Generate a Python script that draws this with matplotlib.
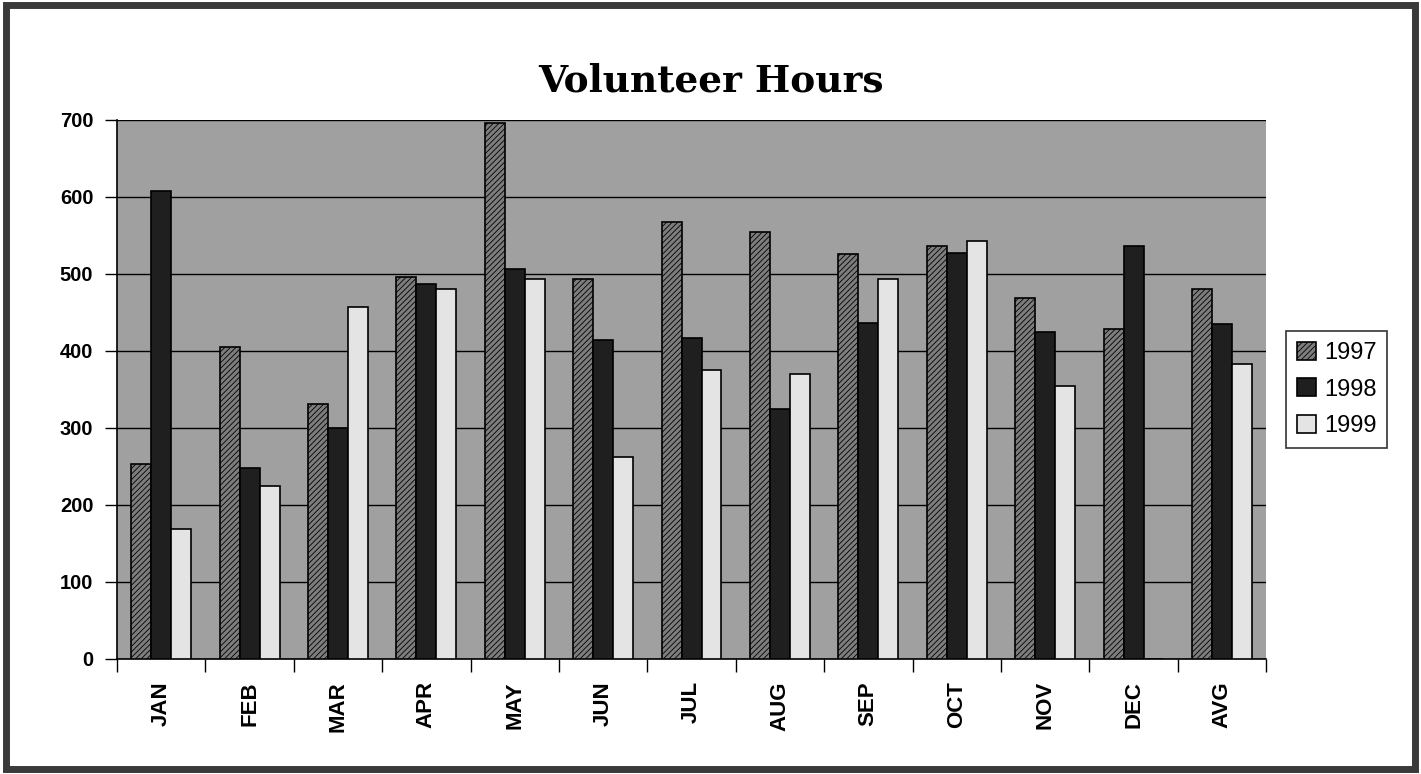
import numpy as np
import matplotlib
matplotlib.use("Agg")
import matplotlib.pyplot as plt
from matplotlib.patches import Rectangle

# Data
months = ['JAN', 'FEB', 'MAR', 'APR', 'MAY', 'JUN', 'JUL', 'AUG', 'SEP', 'OCT', 'NOV', 'DEC', 'AVG']
hours_1997 = [253, 405, 331, 496, 696, 493, 568, 554, 526, 536, 469, 428, 480]
hours_1998 = [608, 248, 300, 487, 506, 414, 417, 325, 436, 527, 424, 536, 435]
hours_1999 = [169, 225, 457, 480, 494, 262, 375, 370, 494, 543, 354, 0, 383]
years = ['1997', '1998', '1999']

series = [hours_1997, hours_1998, hours_1999]
colors = ['#7d7d7d', '#1f1f1f', '#e4e4e4']
hatches = ['//////', '', '']

plt.rcParams['font.family'] = ['Liberation Sans', 'DejaVu Sans']
plt.rcParams['hatch.color'] = '#555555'
plt.rcParams['hatch.linewidth'] = 0.6

fig = plt.figure(figsize=(14.21, 7.74), dpi=100)
ax = fig.add_axes([0.0823, 0.1486, 0.8087, 0.6964])
ax.set_facecolor('#a0a0a0')

x = np.arange(len(months))
w = 0.226
for i, (vals, c, h, yr) in enumerate(zip(series, colors, hatches, years)):
    ax.bar(x + (i - 1) * w, vals, width=w, color=c, edgecolor='black',
           linewidth=1.2, hatch=h, label=yr, zorder=3)

ax.set_xlim(-0.5, len(months) - 0.5)
ax.set_ylim(0, 700)
ax.set_yticks(range(0, 701, 100))
ax.yaxis.grid(True, color='black', linewidth=1.0, zorder=1)
ax.set_axisbelow(True)

# tick marks at category boundaries, labels at centres
ax.set_xticks(np.arange(-0.5, len(months), 1.0))
ax.set_xticklabels([])
ax.set_xticks(x, minor=True)
ax.set_xticklabels(months, minor=True, rotation=90, fontsize=16, fontweight='bold')
ax.tick_params(axis='x', which='major', length=9, width=1, direction='out')
ax.tick_params(axis='x', which='minor', length=0, pad=16)
ax.tick_params(axis='y', length=9, width=1, direction='out', labelsize=14.5, pad=8)
for lbl in ax.get_yticklabels():
    lbl.set_fontweight('bold')

for s in ['top', 'right']:
    ax.spines[s].set_visible(False)
ax.spines['left'].set_linewidth(1.2)
ax.spines['bottom'].set_linewidth(1.2)

fig.text(0.5, 0.895, 'Volunteer Hours', ha='center', va='center',
         fontsize=27, fontweight='bold', family='DejaVu Serif')

leg = ax.legend(loc='center left', bbox_to_anchor=(1.0174, 0.50), frameon=True,
                fancybox=False, edgecolor='black', fontsize=17,
                handlelength=0.8, handleheight=0.8, handletextpad=0.35,
                borderpad=0.45, labelspacing=0.6, borderaxespad=0)
leg.get_frame().set_linewidth(1.2)

# outer frame
fig.patches.append(Rectangle((0.004, 0.006), 0.992, 0.988, transform=fig.transFigure,
                             fill=False, edgecolor='#3a3a3a', linewidth=5))

fig.savefig('out.png', dpi=100)
